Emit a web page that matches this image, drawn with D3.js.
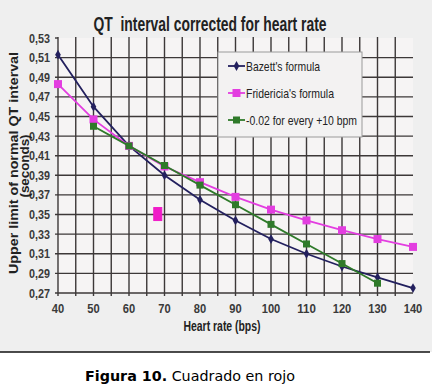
<!DOCTYPE html>
<html><head><meta charset="utf-8">
<script src="https://cdn.jsdelivr.net/npm/d3@7"></script>
<style>
html,body{margin:0;padding:0;background:#fff;}
svg{display:block;}
</style></head>
<body>
<script>
const heartRates = [40,50,60,70,80,90,100,110,120,130,140];
const bazett = [0.513,0.460,0.420,0.390,0.365,0.344,0.325,0.310,0.297,0.286,0.275];
const fridericia = [0.483,0.447,0.420,0.399,0.383,0.368,0.355,0.344,0.334,0.325,0.317];
const linearRates = [50,60,70,80,90,100,110,120,130];
const linearRule = [0.440,0.420,0.400,0.380,0.360,0.340,0.320,0.300,0.280];
const yTicks = [0.27,0.29,0.31,0.33,0.35,0.37,0.39,0.41,0.43,0.45,0.47,0.49,0.51,0.53];
const xTicks = [40,50,60,70,80,90,100,110,120,130,140];
const xGrid = [45,50,55,60,65,70,75,80,85,90,95,100,105,110,115,120,125,130,135];
const seriesNames = ["Bazett's formula","Fridericia's formula","-0.02 for every +10 bpm"];
const marker = {rate:68.1, value:0.3505};

const W=432,H=387;
const svg=d3.select("body").append("svg").attr("width",W).attr("height",H);
const font="'Liberation Sans Narrow','Arial Narrow','Liberation Sans',Arial,sans-serif";

svg.append("rect").attr("width",W).attr("height",352).attr("fill","#efefef");
svg.append("rect").attr("x",0).attr("y",352).attr("width",W).attr("height",H-352).attr("fill","#fff");
svg.append("line").attr("x1",0).attr("x2",430).attr("y1",352).attr("y2",352).attr("stroke","#111").attr("stroke-width",1.5);

const x=d3.scaleLinear().domain([40,140]).range([58,413]);
const y=d3.scaleLinear().domain([0.27,0.53]).range([293,38]);

// plot background
svg.append("rect").attr("x",x(40)).attr("y",y(0.53)).attr("width",x(140)-x(40)).attr("height",y(0.27)-y(0.53)).attr("fill","#f6f4f4");

const grid=svg.append("g").attr("stroke","#3d3838").attr("stroke-width",1.4);
grid.selectAll("line.v").data(xGrid).join("line").attr("class","v")
  .attr("x1",d=>x(d)).attr("x2",d=>x(d)).attr("y1",y(0.53)-1).attr("y2",y(0.27)+3);
grid.selectAll("line.h").data(yTicks.filter(d=>d<0.53)).join("line").attr("class","h")
  .attr("x1",x(40)-3).attr("x2",x(140)).attr("y1",d=>y(d)).attr("y2",d=>y(d));
grid.append("line").attr("x1",x(40)-3).attr("x2",x(40)).attr("y1",y(0.53)).attr("y2",y(0.53));
grid.append("line").attr("x1",x(40)).attr("x2",x(40)).attr("y1",y(0.53)-1).attr("y2",y(0.27)+3);

// y tick labels
svg.append("g").selectAll("text").data(yTicks).join("text")
  .attr("x",50).attr("y",d=>y(d)+4.5).attr("text-anchor","end")
  .attr("font-family",font).attr("font-size",12.5).attr("font-weight","bold").attr("fill","#3a3a3a")
  .attr("textLength",21).attr("lengthAdjust","spacingAndGlyphs")
  .text(d=>d3.format(".2f")(d).replace(".",","));
// x tick labels
svg.append("g").selectAll("text").data(xTicks).join("text")
  .attr("x",d=>x(d)).attr("y",y(0.27)+20).attr("text-anchor","middle")
  .attr("font-family",font).attr("font-size",13.5).attr("font-weight","bold").attr("fill","#3a3a3a")
  .attr("textLength",d=>String(d).length*6.2).attr("lengthAdjust","spacingAndGlyphs")
  .text(d=>d);

// titles
svg.append("text").attr("x",210).attr("y",31).attr("text-anchor","middle")
  .attr("font-family",font).attr("font-size",19.5).attr("font-weight","bold").attr("fill","#222")
  .attr("textLength",233).attr("lengthAdjust","spacingAndGlyphs")
  .attr("xml:space","preserve").text("QT  interval corrected for heart rate");
svg.append("text").attr("x",222).attr("y",331).attr("text-anchor","middle")
  .attr("font-family",font).attr("font-size",14).attr("font-weight","bold").attr("fill","#222")
  .attr("textLength",77).attr("lengthAdjust","spacingAndGlyphs")
  .text("Heart rate (bps)");
const yl=svg.append("g").attr("transform","translate(0,163) rotate(-90)");
yl.append("text").attr("x",0).attr("y",18).attr("text-anchor","middle")
  .attr("font-family",font).attr("font-size",13).attr("font-weight","bold").attr("fill","#222")
  .attr("textLength",222).attr("lengthAdjust","spacingAndGlyphs")
  .text("Upper limit of normal QT interval");
yl.append("text").attr("x",-3).attr("y",28.5).attr("text-anchor","middle")
  .attr("font-family",font).attr("font-size",12).attr("font-weight","bold").attr("fill","#222")
  .attr("textLength",63).attr("lengthAdjust","spacingAndGlyphs")
  .text("(seconds)");

const series=[
  {name:seriesNames[0],xs:heartRates,ys:bazett,color:"#23205e",shape:"diamond"},
  {name:seriesNames[1],xs:heartRates,ys:fridericia,color:"#e33ee0",shape:"square"},
  {name:seriesNames[2],xs:linearRates,ys:linearRule,color:"#2f7a2a",shape:"square"}
];
const line=d3.line().x(d=>x(d[0])).y(d=>y(d[1]));
function drawMarker(g,shape,color,cx,cy){
  if(shape==="diamond"){
    g.append("path").attr("d",d3.symbol(d3.symbolDiamond,28)()).attr("transform",`translate(${cx},${cy})`).attr("fill",color);
  } else {
    const s = color==="#e33ee0"?8:7;
    g.append("rect").attr("x",cx-s/2).attr("y",cy-s/2).attr("width",s).attr("height",s).attr("fill",color);
  }
}
series.forEach(s=>{
  const pts=s.xs.map((v,i)=>[v,s.ys[i]]);
  const g=svg.append("g");
  g.append("path").datum(pts).attr("d",line).attr("fill","none").attr("stroke",s.color).attr("stroke-width",1.8);
  pts.forEach(p=>drawMarker(g,s.shape,s.color,x(p[0]),y(p[1])));
});

// legend
const legendLens=[74,88,111];
const lg=svg.append("g");
lg.append("rect").attr("x",218).attr("y",52).attr("width",144).attr("height",85).attr("fill","#f3f2f2").attr("stroke","#9a9a9a").attr("stroke-width",1);
series.forEach((s,i)=>{
  const ly=66+i*27;
  lg.append("line").attr("x1",228).attr("x2",245).attr("y1",ly).attr("y2",ly).attr("stroke",s.color).attr("stroke-width",1.8);
  drawMarker(lg,s.shape,s.color,236.5,ly);
  lg.append("text").attr("x",246).attr("y",ly+4.5).attr("font-family",font).attr("font-size",13.5).attr("fill","#222")
    .attr("textLength",legendLens[i]).attr("lengthAdjust","spacingAndGlyphs").text(s.name);
});

// pink annotation square (drawn on top)
svg.append("rect").attr("x",x(marker.rate)-4).attr("y",y(marker.value)-6.5).attr("width",8).attr("height",13)
  .attr("fill","#f01cc8").attr("stroke","#f01cc8").attr("stroke-width",1);

// caption
const cap=svg.append("text").attr("x",85).attr("y",381).attr("font-family","Verdana,'DejaVu Sans',sans-serif").attr("font-size",14.3).attr("fill","#000");
cap.append("tspan").attr("font-weight","bold").text("Figura 10.");
cap.append("tspan").text(" Cuadrado en rojo");
</script>
</body></html>
